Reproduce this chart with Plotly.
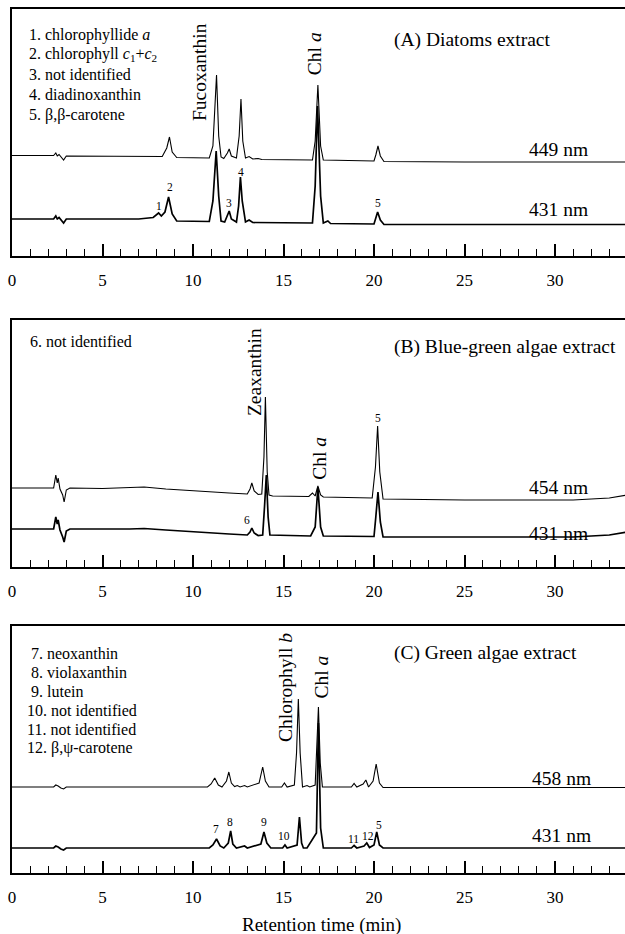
import plotly.graph_objects as go

# ---------------- data (signal in arbitrary units, retention time in min) ----------------
# Panel A: Diatoms extract
A449_t = [0, 2.3, 2.42, 2.5, 2.6, 2.75, 2.85, 3.0, 5, 7.5, 8.3, 8.55, 8.7, 8.85, 9.1, 10.9, 11.1, 11.3, 11.42,
          11.55, 11.7, 11.9, 12.0, 12.12, 12.4, 12.55, 12.65, 12.75, 12.9, 13.1, 13.3, 13.6, 13.8, 16.6, 16.75,
          16.9, 17.05, 17.2, 20.0, 20.1, 20.22, 20.35, 20.55, 25, 34]
A449_y = [100.5, 100.5, 103, 100, 101.5, 98, 96, 100, 100, 99.5, 99.5, 108, 119, 104, 98.5, 98, 110, 181, 120,
          99, 97.5, 103, 107, 100, 98, 120, 157, 115, 98, 99.5, 97, 97.5, 96.5, 96, 115,
          171, 110, 96, 95, 101, 110, 100, 94.5, 94, 94]
A431_t = [0, 2.3, 2.42, 2.5, 2.6, 2.75, 2.85, 3.0, 5, 7.0, 7.8, 8.1, 8.25, 8.45, 8.65, 8.85, 9.1, 10.9, 11.1,
          11.28, 11.42, 11.55, 11.75, 11.9, 12.0, 12.12, 12.4, 12.52, 12.62, 12.72, 12.9, 13.1, 13.3, 16.6,
          16.75, 16.88, 17.05, 17.2, 17.45, 17.6, 20.0, 20.1, 20.2, 20.35, 20.55, 34]
A431_y = [37, 37, 40, 37, 38.5, 35, 33, 37, 37, 37, 38.5, 43, 40, 44, 59, 42, 35, 34.5, 55,
          105, 60, 35, 34, 40, 45, 37, 34, 50, 79, 55, 34, 36, 33.5, 33,
          70, 150, 60, 33, 35, 32.5, 32, 38, 44, 36, 31.5, 31.5]

# Panel B: Blue-green algae extract
B454_t = [0, 2.3, 2.42, 2.5, 2.55, 2.65, 2.8, 2.88, 3.0, 3.2, 5, 6.5, 7.3, 8.5, 10, 12, 13.0, 13.15, 13.25,
          13.38, 13.6, 13.8, 13.92, 14.0, 14.1, 14.2, 14.4, 16.4, 16.6, 16.75, 16.9, 17.05, 17.2, 19.9, 20.08,
          20.2, 20.32, 20.5, 25, 31, 33, 34]
B454_y = [79, 79, 92, 84, 89, 78, 72, 65, 77, 79, 78.5, 79, 80, 78, 76, 74, 73, 78, 84,
          76, 72.5, 73, 110, 170, 95, 72, 71, 70.5, 74, 71, 81, 72, 70, 69, 100,
          141, 95, 68, 67, 67, 69, 72]
B431_t = [0, 2.3, 2.42, 2.5, 2.55, 2.65, 2.8, 2.88, 3.0, 3.2, 6.5, 7.3, 8.5, 10, 12, 13.0, 13.15, 13.25, 13.38,
          13.6, 13.85, 13.95, 14.05, 14.15, 14.25, 16.5, 16.75, 16.9, 17.05, 17.2, 20.0, 20.1, 20.22, 20.35,
          20.5, 25, 31, 33, 34]
B431_y = [38, 38, 50, 43, 47, 37, 30, 25, 36, 38, 38, 38.5, 37, 35, 33, 32, 35, 39, 34,
          31.5, 32, 60, 92, 50, 32, 31, 40, 80, 40, 31, 30.5, 50, 75, 45,
          30, 30, 30, 32, 35]

# Panel C: Green algae extract
C458_t = [0, 2.3, 2.42, 2.55, 2.7, 2.85, 3.0, 10.8, 11.0, 11.2, 11.4, 11.6, 11.85, 11.98, 12.12, 12.3, 12.45,
          12.6, 12.85, 13.0, 13.65, 13.85, 14.0, 14.2, 14.9, 15.05, 15.2, 15.6, 15.72, 15.82, 15.92, 16.05,
          16.3, 16.45, 16.75, 16.85, 16.93, 17.03, 17.15, 18.75, 18.9, 19.05, 19.4, 19.55, 19.7, 19.95, 20.12,
          20.3, 20.5, 34]
C458_y = [86, 86, 88, 87, 85, 84, 86, 86, 89, 95, 88, 86, 92, 101, 90, 86.5, 87.5,
          86, 87.5, 86, 90, 106, 92, 86, 86, 90, 86, 88, 120, 174, 120, 86,
          87.5, 86, 88, 130, 166, 110, 86, 86, 89.5, 86, 89, 93, 86, 92, 109,
          90, 85.5, 85.5]
C431_t = [0, 2.3, 2.42, 2.55, 2.7, 2.85, 3.0, 10.9, 11.1, 11.3, 11.5, 11.7, 11.95, 12.08, 12.2, 12.4, 12.85,
          13.0, 13.75, 13.92, 14.08, 14.3, 14.95, 15.08, 15.2, 15.75, 15.88, 16.0, 16.1, 16.3, 16.82, 16.93,
          17.05, 17.2, 18.75, 18.9, 19.05, 19.45, 19.6, 19.75, 20.0, 20.15, 20.3, 20.5, 34]
C431_y = [25, 25, 27, 26, 24, 23, 25, 25, 28, 34, 27, 25, 30, 42, 29, 25, 27,
          25, 29, 41, 30, 25, 25, 28, 25, 28, 56, 30, 25, 25, 40, 150,
          45, 25, 25, 27.5, 25, 27, 30, 25.5, 28, 41, 28, 25, 25]

panel_titles = ["(A) Diatoms extract", "(B) Blue-green algae extract", "(C) Green algae extract"]
wavelengths = [["449 nm", "431 nm"], ["454 nm", "431 nm"], ["458 nm", "431 nm"]]
legend_A = ["1. chlorophyllide <i>a</i>", "2. chlorophyll <i>c</i><sub>1</sub>+<i>c</i><sub>2</sub>",
            "3. not identified", "4. diadinoxanthin", "5. \u03b2,\u03b2-carotene"]
legend_B = ["6. not identified"]
legend_C = ["\u00a07. neoxanthin", "\u00a08. violaxanthin", "\u00a09. lutein", "10. not identified",
            "11. not identified", "12. \u03b2,\u03c8-carotene"]
peak_names_A = ["Fucoxanthin", "Chl <i>a</i>"]
peak_names_B = ["Zeaxanthin", "Chl <i>a</i>"]
peak_names_C = ["Chlorophyll <i>b</i>", "Chl <i>a</i>"]
peak_nums_A = ["1", "2", "3", "4", "5"]
peak_nums_B = ["6", "5"]
peak_nums_C = ["7", "8", "9", "10", "11", "12", "5"]
x_tick_vals = [0, 5, 10, 15, 20, 25, 30]
x_label = "Retention time (min)"

# ---------------- figure ----------------
W, H = 625, 934
FONT = "'Liberation Serif', 'DejaVu Serif', 'Times New Roman', serif"
fig = go.Figure()

panels = [
    (A449_t, A449_y, A431_t, A431_y),
    (B454_t, B454_y, B431_t, B431_y),
    (C458_t, C458_y, C431_t, C431_y),
]
# pixel positions (top frame, axis line) of each panel
px_frames = [(9, 256), (320, 567), (626, 873)]
XMAX = (W - 12) / 18.1

for i, (t1, y1, t2, y2) in enumerate(panels):
    xa = "x" if i == 0 else f"x{i+1}"
    ya = "y" if i == 0 else f"y{i+1}"
    fig.add_trace(go.Scatter(x=t1, y=y1, mode="lines", line=dict(color="black", width=1.1),
                             xaxis=xa, yaxis=ya, showlegend=False, hoverinfo="skip"))
    fig.add_trace(go.Scatter(x=t2, y=y2, mode="lines", line=dict(color="black", width=1.7),
                             xaxis=xa, yaxis=ya, showlegend=False, hoverinfo="skip"))
    top, bot = px_frames[i]
    dom = [1 - bot / H, 1 - top / H]
    xkey = "xaxis" if i == 0 else f"xaxis{i+1}"
    ykey = "yaxis" if i == 0 else f"yaxis{i+1}"
    fig.layout[xkey] = dict(
        domain=[0, 1], anchor=ya, range=[0, XMAX], showgrid=False, zeroline=False,
        showline=True, linecolor="black", linewidth=2, mirror=True,
        ticks="inside", ticklen=12, tickwidth=1.5, tickcolor="black",
        tickvals=x_tick_vals, ticktext=[str(v) for v in x_tick_vals],
        ticklabelstandoff=8,
        minor=dict(dtick=1, tick0=0, ticks="inside", ticklen=7, tickwidth=1.2, tickcolor="black"),
        tickfont=dict(family=FONT, size=17, color="black"),
    )
    fig.layout[ykey] = dict(
        domain=dom, anchor=xa, range=[0, 247], showgrid=False, zeroline=False,
        showline=True, linecolor="black", linewidth=2, mirror=False,
        showticklabels=False, ticks="",
    )

ann = []

def add_text(text, x, y, panel, size, xanchor="left", yanchor="middle", angle=0):
    xa = "x" if panel == 0 else f"x{panel+1}"
    ya = "y" if panel == 0 else f"y{panel+1}"
    ann.append(dict(text=text, x=x, y=y, xref=xa, yref=ya, showarrow=False, xanchor=xanchor,
                    yanchor=yanchor, textangle=angle,
                    font=dict(family=FONT, size=size, color="black")))

# panel titles and wavelength labels
title_pos = [(21.0, 216), (21.0, 220), (21.0, 220)]
wl_pos = [[(28.45, 106), (28.45, 46)], [(28.45, 79), (28.45, 34)], [(28.6, 95), (28.6, 38)]]
for i in range(3):
    add_text(panel_titles[i], title_pos[i][0], title_pos[i][1], i, 19.5)
    for j in range(2):
        add_text(wavelengths[i][j], wl_pos[i][j][0], wl_pos[i][j][1], i, 19.5)

# compound legends
for k, s in enumerate(legend_A):
    add_text(s, 0.83, 221 - k * 20, 0, 16)
for k, s in enumerate(legend_B):
    add_text(s, 0.9, 225 - k * 20, 1, 16)
for k, s in enumerate(legend_C):
    add_text(s, 0.72, 220 - k * 19, 2, 16)

# rotated compound names
names_pos = [[(10.39, 184), (16.75, 202)], [(13.43, 195), (17.0, 109)], [(15.08, 186), (17.05, 196)]]
names = [peak_names_A, peak_names_B, peak_names_C]
for i in range(3):
    for j, s in enumerate(names[i]):
        add_text(s, names_pos[i][j][0], names_pos[i][j][1], i, 19.5, xanchor="center", angle=-90)

# peak numbers
nums_pos = [
    [(8.1, 50), (8.75, 69), (12.0, 53), (12.65, 84), (20.2, 53)],
    [(13.0, 47), (20.2, 149)],
    [(11.25, 44), (12.05, 51), (13.9, 51), (15.0, 37), (18.85, 34), (19.67, 37), (20.3, 48)],
]
nums = [peak_nums_A, peak_nums_B, peak_nums_C]
for i in range(3):
    for j, s in enumerate(nums[i]):
        add_text(s, nums_pos[i][j][0], nums_pos[i][j][1], i, 11.5, xanchor="center")

# x axis title
ann.append(dict(text=x_label, x=316 / W, y=1 - 925 / H, xref="paper", yref="paper", showarrow=False,
                xanchor="center", yanchor="middle", font=dict(family=FONT, size=19, color="black")))

fig.update_layout(
    width=W, height=H, margin=dict(l=12, r=0, t=0, b=0),
    paper_bgcolor="white", plot_bgcolor="white",
    annotations=ann, showlegend=False,
)

fig.write_html("out.html", config={"displayModeBar": False},
               post_script="document.body.style.margin='0';")
